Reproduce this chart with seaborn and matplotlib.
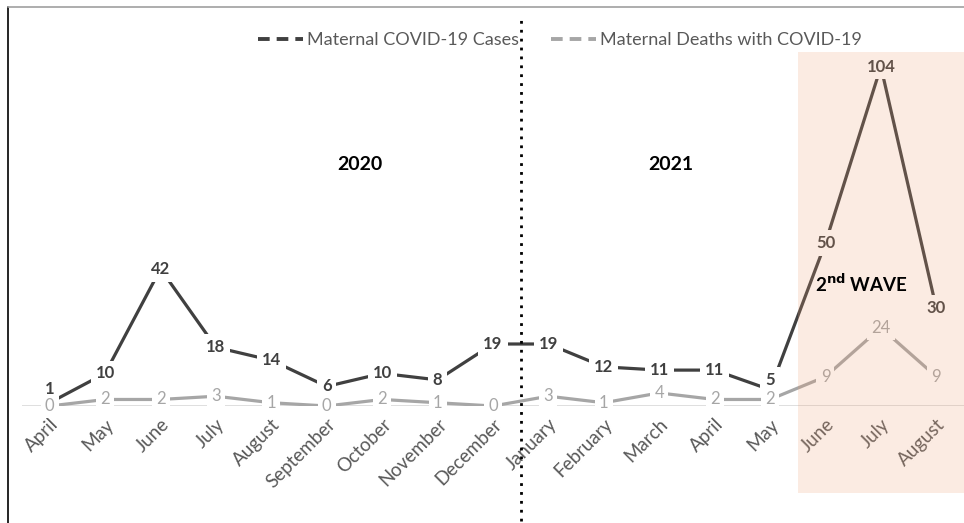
import matplotlib
matplotlib.use("Agg")
import matplotlib.pyplot as plt
import seaborn as sns
import pandas as pd
from matplotlib.lines import Line2D
from matplotlib.patches import Rectangle

# data
months = ["April", "May", "June", "July", "August", "September", "October",
          "November", "December", "January", "February", "March", "April",
          "May", "June", "July", "August"]
cases = [1, 10, 42, 18, 14, 6, 10, 8, 19, 19, 12, 11, 11, 5, 50, 104, 30]
deaths = [0, 2, 2, 3, 1, 0, 2, 1, 0, 3, 1, 4, 2, 2, 9, 24, 9]

CASES_COLOR = "#404040"
DEATHS_COLOR = "#A6A6A6"
TEXT_COLOR = "#595959"
WAVE_COLOR = "#EB9B6E"

sns.set_style("white")
plt.rcParams['font.family'] = ['Lato', 'DejaVu Sans']

df = pd.DataFrame({"pos": range(len(months)), "cases": cases, "deaths": deaths})

fig = plt.figure(figsize=(9.64, 5.23), dpi=100)
ax = fig.add_axes([22 / 964, (523 - 406) / 523, 942 / 964, 372 / 523])

sns.lineplot(data=df, x="pos", y="cases", ax=ax, color=CASES_COLOR, linewidth=2.3, zorder=2)
sns.lineplot(data=df, x="pos", y="deaths", ax=ax, color=DEATHS_COLOR, linewidth=2.3, zorder=2)

ax.set_xlim(-0.5, len(months) - 0.5)
ax.set_ylim(0, 114)
for s in ax.spines.values():
    s.set_visible(False)
ax.axhline(0, color="#D9D9D9", linewidth=1.2, zorder=1)

# data labels with white boxes so the lines break around them
for i, (c, d) in enumerate(zip(cases, deaths)):
    # small case counts sit a little above their point, clear of the deaths labels
    nudge = 10 if c < 3 else (7 if c < 6 else 0)
    ax.annotate(str(c), (i, c), xytext=(0, nudge), textcoords="offset points",
                ha="center", va="center", fontsize=12, fontweight="bold",
                color=CASES_COLOR, zorder=3,
                bbox=dict(facecolor="white", edgecolor="none", pad=3.5))
    ax.text(i, d, str(d), ha="center", va="center", fontsize=12,
            color=DEATHS_COLOR, zorder=4,
            bbox=dict(facecolor="white", edgecolor="none", pad=3))

ax.set_xticks(range(len(months)))
ax.set_xticklabels(months, rotation=45, ha="right", rotation_mode="anchor",
                   fontsize=13.5, color=TEXT_COLOR)
ax.tick_params(axis="x", length=0, pad=7)
ax.set_yticks([])
ax.set_xlabel("")
ax.set_ylabel("")

# year divider
ax.axvline(8.5, ymin=-0.31, ymax=1.04, color="black", linestyle=(0, (1, 2.2)),
           linewidth=2, clip_on=False, zorder=5)

# second wave shading drawn over the lines
ax.add_patch(Rectangle((13.5, -26.7), 3.0, 135.3, facecolor=WAVE_COLOR, edgecolor="none",
                       alpha=0.2, clip_on=False, zorder=6))

ax.text(5.6, 74, "2020", ha="center", va="center", fontsize=14, fontweight="bold", color="black")
ax.text(11.2, 74, "2021", ha="center", va="center", fontsize=14, fontweight="bold", color="black")
ax.text(14.65, 37.5, r"2$^{\mathbf{nd}}$ WAVE", ha="center", va="center", fontsize=13.5,
        fontweight="bold", color="black", zorder=7)

handles = [Line2D([], [], color=CASES_COLOR, linewidth=2.8, linestyle=(0, (3, 1.8))),
           Line2D([], [], color=DEATHS_COLOR, linewidth=2.8, linestyle=(0, (3, 1.8)))]
fig.legend(handles, ["Maternal COVID-19 Cases", "Maternal Deaths with COVID-19"],
           loc="center", bbox_to_anchor=(560 / 964, 1 - 40 / 523), ncol=2, frameon=False,
           fontsize=13, labelcolor=TEXT_COLOR, handlelength=2.5, handletextpad=0.2,
           columnspacing=1.8)

# image frame edges
fig.add_artist(Line2D([8 / 964, 8 / 964], [0, 1 - 7 / 523], color="black", linewidth=1.2))
fig.add_artist(Line2D([8 / 964, 1], [1 - 7 / 523, 1 - 7 / 523], color="#A0A0A0", linewidth=1.2))

fig.savefig("out.png", dpi=100)
